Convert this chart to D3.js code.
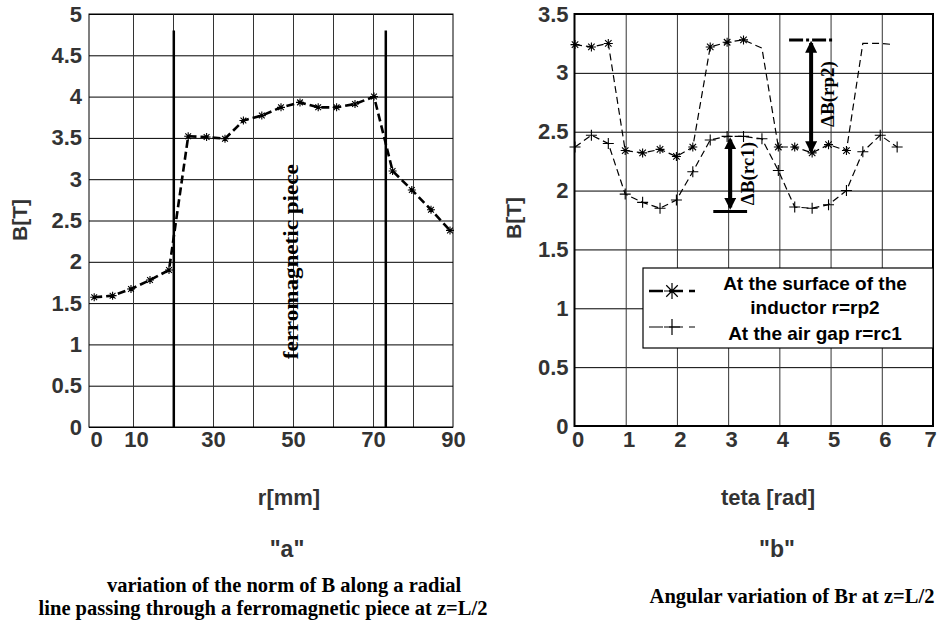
<!DOCTYPE html>
<html>
<head>
<meta charset="utf-8">
<script src="https://cdn.jsdelivr.net/npm/d3@7"></script>
<style>
  body { margin: 0; background: #fff; }
  svg { display: block; }
  .tick text { font-family: "Liberation Sans", Arial, sans-serif; font-weight: bold; fill: #333; }
  .lab { font-family: "Liberation Sans", Arial, sans-serif; font-weight: bold; fill: #333; }
  .serif { font-family: "Liberation Serif", "Times New Roman", serif; font-weight: bold; fill: #000; }
</style>
</head>
<body>
<div id="chart"></div>
<script>
// ---- chart "a": |B| along a radial line
var rMM   = [0.3, 4.9, 9.5, 14.25, 19, 23.8, 28.4, 33, 37.6, 42.2, 47, 51.75, 56.3, 60.9, 65.5, 70.25, 74.9, 79.7, 84.5, 89.25];
var bNorm = [1.57, 1.59, 1.67, 1.78, 1.90, 3.52, 3.51, 3.49, 3.71, 3.77, 3.87, 3.93, 3.87, 3.87, 3.91, 4.00, 3.10, 2.87, 2.63, 2.38];
var poleR = [20.2, 73.2];      // edges of the ferromagnetic piece
var poleTop = 4.8;
var aTicksX = [0, 10, 30, 50, 70, 90];
var aGridX  = [10, 20, 30, 40, 50, 60, 70, 80];
var aTicksY = [0, 0.5, 1, 1.5, 2, 2.5, 3, 3.5, 4, 4.5, 5];

// ---- chart "b": Br versus teta
var tetaSurf = [0.01, 0.33, 0.66, 0.99, 1.33, 1.67, 1.99, 2.31, 2.65, 2.98, 3.30, 3.66, 3.98, 4.30, 4.64, 4.96, 5.31, 5.63, 6.00, 6.23];
var bSurf    = [3.24, 3.22, 3.25, 2.34, 2.32, 2.35, 2.29, 2.37, 3.22, 3.26, 3.28, 3.21, 2.37, 2.37, 2.32, 2.39, 2.34, 3.25, 3.25, 3.24];
var markSurf = [1, 1, 1, 1, 1, 1, 1, 1, 1, 1, 1, 0, 1, 1, 1, 1, 1, 0, 0, 0];
var tetaGap  = [0.01, 0.33, 0.66, 0.99, 1.33, 1.67, 1.99, 2.31, 2.65, 2.98, 3.30, 3.66, 3.98, 4.30, 4.64, 4.96, 5.31, 5.63, 5.97, 6.30];
var bGap     = [2.37, 2.47, 2.40, 1.97, 1.90, 1.85, 1.92, 2.16, 2.43, 2.46, 2.46, 2.44, 2.17, 1.86, 1.85, 1.88, 2.00, 2.33, 2.47, 2.37];
var bTicksX = [0, 1, 2, 3, 4, 5, 6, 7];
var bGridX  = [1, 2, 3, 4, 5, 6];
var bTicksY = [0, 0.5, 1, 1.5, 2, 2.5, 3, 3.5];
var legendNames = [["At the surface of the", "inductor r=rp2"], ["At the air gap r=rc1"]];
// delta annotations: [teta, from, to]
var dRc1 = [3.04, 2.45, 1.84];
var dRp2 = [4.62, 3.27, 2.32];

var width = 937, height = 628;
var svg = d3.select("#chart").append("svg").attr("width", width).attr("height", height);
var fmt = function(d){ return String(d); };

function starPath(s) {
  var k = s * 0.72;
  return "M0," + (-s) + "L0," + s + "M" + (-s) + ",0L" + s + ",0" +
         "M" + (-k) + "," + (-k) + "L" + k + "," + k + "M" + (-k) + "," + k + "L" + k + "," + (-k);
}
function plusPath(s) {
  return "M0," + (-s) + "L0," + s + "M" + (-s) + ",0L" + s + ",0";
}

function frame(g, x, y, gridX, ticksY, bw) {
  var x0 = x.range()[0], x1 = x.range()[1], y0 = y.range()[1], y1 = y.range()[0];
  g.append("g").attr("transform", "translate(" + x0 + ",0)")
    .call(d3.axisLeft(y).tickValues(ticksY).tickSize(-(x1 - x0)).tickFormat(""))
    .call(function(a){ a.select(".domain").remove(); a.selectAll("line").attr("stroke", "#000"); });
  g.append("g").attr("transform", "translate(0," + y1 + ")")
    .call(d3.axisBottom(x).tickValues(gridX).tickSize(-(y1 - y0)).tickFormat(""))
    .call(function(a){ a.select(".domain").remove(); a.selectAll("line").attr("stroke", "#333"); });
  g.append("rect").attr("x", x0).attr("y", y0).attr("width", x1 - x0).attr("height", y1 - y0)
    .attr("fill", "none").attr("stroke", "#000").attr("stroke-width", bw);
}

// ================= chart a =================
var xA = d3.scaleLinear().domain([-1, 90]).range([89, 453]);
var yA = d3.scaleLinear().domain([0, 5]).range([427, 14]);
var gA = svg.append("g");
frame(gA, xA, yA, aGridX, aTicksY, 1);

gA.append("g").attr("transform", "translate(89,0)")
  .call(d3.axisLeft(yA).tickValues(aTicksY).tickFormat(fmt).tickSize(0).tickPadding(7))
  .call(function(a){ a.select(".domain").remove(); a.selectAll("text").style("font-size", "22px"); });
gA.append("g").attr("transform", "translate(0,427)")
  .call(d3.axisBottom(xA).tickValues(aTicksX).tickFormat(fmt).tickSize(0).tickPadding(4))
  .call(function(a){ a.select(".domain").remove(); a.selectAll("text").style("font-size", "22px")
    .attr("dx", function(d){ return d < 20 ? 3 : 0; }); });

gA.selectAll(".pole").data(poleR).enter().append("line")
  .attr("x1", function(d){ return xA(d); }).attr("x2", function(d){ return xA(d); })
  .attr("y1", yA(poleTop)).attr("y2", yA(0))
  .attr("stroke", "#000").attr("stroke-width", 2.5);

var ptsA = rMM.map(function(r, i){ return [r, bNorm[i]]; });
gA.append("path").datum(ptsA)
  .attr("d", d3.line().x(function(d){ return xA(d[0]); }).y(function(d){ return yA(d[1]); }))
  .attr("fill", "none").attr("stroke", "#000").attr("stroke-width", 2.6).attr("stroke-dasharray", "8,4");
gA.selectAll(".mk").data(ptsA).enter().append("path")
  .attr("transform", function(d){ return "translate(" + xA(d[0]) + "," + yA(d[1]) + ")"; })
  .attr("d", starPath(4)).attr("stroke", "#000").attr("stroke-width", 1.1).attr("fill", "none");

gA.append("text").attr("class", "serif")
  .attr("transform", "translate(298," + yA(2.0) + ") rotate(-90)")
  .attr("text-anchor", "middle").style("font-size", "21px")
  .attr("textLength", 195).attr("lengthAdjust", "spacingAndGlyphs")
  .text("ferromagnetic piece");

gA.append("text").attr("class", "lab").attr("transform", "translate(27,220) rotate(-90)")
  .attr("text-anchor", "middle").style("font-size", "21px").text("B[T]");
gA.append("text").attr("class", "lab").attr("x", 289).attr("y", 505)
  .attr("text-anchor", "middle").style("font-size", "22px").text("r[mm]");
gA.append("text").attr("class", "lab").attr("x", 287).attr("y", 557)
  .attr("text-anchor", "middle").style("font-size", "23px").text('"a"');
gA.append("text").attr("class", "serif").attr("x", 284).attr("y", 592)
  .attr("text-anchor", "middle").style("font-size", "20.5px").text("variation of the norm of B along a radial");
gA.append("text").attr("class", "serif").attr("x", 263).attr("y", 615)
  .attr("text-anchor", "middle").style("font-size", "20.5px").text("line passing through a ferromagnetic piece at z=L/2");

// ================= chart b =================
var xB = d3.scaleLinear().domain([0, 7]).range([574.5, 933]);
var yB = d3.scaleLinear().domain([0, 3.5]).range([426, 14]);
var gB = svg.append("g");
frame(gB, xB, yB, bGridX, bTicksY, 2);

gB.append("g").attr("transform", "translate(574.5,0)")
  .call(d3.axisLeft(yB).tickValues(bTicksY).tickFormat(fmt).tickSize(0).tickPadding(6))
  .call(function(a){ a.select(".domain").remove(); a.selectAll("text").style("font-size", "22px"); });
gB.append("g").attr("transform", "translate(0,426)")
  .call(d3.axisBottom(xB).tickValues(bTicksX).tickFormat(fmt).tickSize(0).tickPadding(5))
  .call(function(a){ a.select(".domain").remove(); a.selectAll("text").style("font-size", "22px")
    .attr("dx", function(d){ return d === 7 ? -3 : 3; }); });

var line = d3.line().x(function(d){ return xB(d[0]); }).y(function(d){ return yB(d[1]); });
var ptsS = tetaSurf.map(function(t, i){ return [t, bSurf[i], markSurf[i]]; });
var ptsG = tetaGap.map(function(t, i){ return [t, bGap[i]]; });

gB.append("path").datum(ptsS).attr("d", line)
  .attr("fill", "none").attr("stroke", "#000").attr("stroke-width", 1.2).attr("stroke-dasharray", "7,4");
gB.append("path").datum(ptsG).attr("d", line)
  .attr("fill", "none").attr("stroke", "#000").attr("stroke-width", 1.2).attr("stroke-dasharray", "7,4");
gB.selectAll(".ms").data(ptsS.filter(function(d){ return d[2]; })).enter().append("path")
  .attr("transform", function(d){ return "translate(" + xB(d[0]) + "," + yB(d[1]) + ")"; })
  .attr("d", starPath(4.5)).attr("stroke", "#000").attr("stroke-width", 1.1).attr("fill", "none");
gB.selectAll(".mg").data(ptsG).enter().append("path")
  .attr("transform", function(d){ return "translate(" + xB(d[0]) + "," + yB(d[1]) + ")"; })
  .attr("d", plusPath(5.5)).attr("stroke", "#000").attr("stroke-width", 1.1).attr("fill", "none");

// delta arrows
svg.append("defs").append("marker").attr("id", "head")
  .attr("viewBox", "0 0 10 10").attr("refX", 8).attr("refY", 5)
  .attr("markerWidth", 3).attr("markerHeight", 3).attr("orient", "auto-start-reverse")
  .append("path").attr("d", "M0,0L10,5L0,10Z").attr("fill", "#000");

[dRc1, dRp2].forEach(function(d){
  gB.append("line").attr("x1", xB(d[0])).attr("x2", xB(d[0]))
    .attr("y1", yB(d[1]) + 2).attr("y2", yB(d[2]) - 2)
    .attr("stroke", "#000").attr("stroke-width", 4)
    .attr("marker-start", "url(#head)").attr("marker-end", "url(#head)");
});
gB.append("line").attr("x1", xB(dRc1[0] - 0.33)).attr("x2", xB(dRc1[0] + 0.33))
  .attr("y1", yB(dRc1[2]) + 2).attr("y2", yB(dRc1[2]) + 2)
  .attr("stroke", "#000").attr("stroke-width", 3);
gB.append("line").attr("x1", xB(dRp2[0] - 0.43)).attr("x2", xB(dRp2[0] + 0.41))
  .attr("y1", yB(dRp2[1]) - 1).attr("y2", yB(dRp2[1]) - 1)
  .attr("stroke", "#000").attr("stroke-width", 3).attr("stroke-dasharray", "14,3,3,3");

gB.append("text").attr("class", "serif")
  .attr("transform", "translate(" + (xB(dRc1[0]) + 24) + "," + yB((dRc1[1] + dRc1[2]) / 2) + ") rotate(-90)")
  .attr("text-anchor", "middle").style("font-size", "19px").text("\u0394B(rc1)");
gB.append("text").attr("class", "serif")
  .attr("transform", "translate(" + (xB(dRp2[0]) + 23) + "," + yB(2.82) + ") rotate(-90)")
  .attr("text-anchor", "middle").style("font-size", "19px").text("\u0394B(rp2)");

// legend
var lg = gB.append("g").attr("transform", "translate(643,268)");
lg.append("rect").attr("width", 290).attr("height", 80)
  .attr("fill", "#fff").attr("stroke", "#000").attr("stroke-width", 1.2);
lg.append("line").attr("x1", 6).attr("x2", 52).attr("y1", 23).attr("y2", 23)
  .attr("stroke", "#000").attr("stroke-width", 2.5).attr("stroke-dasharray", "14,6");
lg.append("path").attr("transform", "translate(29,23)").attr("d", starPath(8))
  .attr("stroke", "#000").attr("stroke-width", 1.2).attr("fill", "none");
lg.append("line").attr("x1", 6).attr("x2", 52).attr("y1", 59).attr("y2", 59)
  .attr("stroke", "#000").attr("stroke-width", 1.2).attr("stroke-dasharray", "14,6");
lg.append("path").attr("transform", "translate(29,59)").attr("d", plusPath(8))
  .attr("stroke", "#000").attr("stroke-width", 1.2).attr("fill", "none");
lg.append("text").attr("class", "lab").attr("x", 172).attr("y", 22).attr("text-anchor", "middle")
  .style("font-size", "19px").style("fill", "#000").text(legendNames[0][0]);
lg.append("text").attr("class", "lab").attr("x", 172).attr("y", 46).attr("text-anchor", "middle")
  .style("font-size", "19px").style("fill", "#000").text(legendNames[0][1]);
lg.append("text").attr("class", "lab").attr("x", 172).attr("y", 72).attr("text-anchor", "middle")
  .style("font-size", "19px").style("fill", "#000").text(legendNames[1][0]);

gB.append("text").attr("class", "lab").attr("transform", "translate(521,218) rotate(-90)")
  .attr("text-anchor", "middle").style("font-size", "21px").text("B[T]");
gB.append("text").attr("class", "lab").attr("x", 768).attr("y", 505)
  .attr("text-anchor", "middle").style("font-size", "22px").text("teta [rad]");
gB.append("text").attr("class", "lab").attr("x", 777).attr("y", 557)
  .attr("text-anchor", "middle").style("font-size", "23px").text('"b"');
gB.append("text").attr("class", "serif").attr("x", 792).attr("y", 603)
  .attr("text-anchor", "middle").style("font-size", "20.5px").text("Angular variation of Br at z=L/2");
</script>
</body>
</html>
